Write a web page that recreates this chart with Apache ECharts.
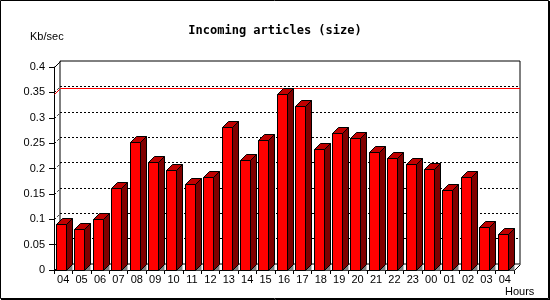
<!DOCTYPE html>
<html>
<head>
<meta charset="utf-8">
<script src="https://cdn.jsdelivr.net/npm/echarts@6/dist/echarts.min.js"></script>
<style>
  html, body { margin: 0; padding: 0; background: #fff; }
  #chart { width: 550px; height: 300px; }
</style>
</head>
<body>
<div id="chart"></div>
<script>
// hours of the day (x categories)
const hours = ['04', '05', '06', '07', '08', '09', '10', '11', '12', '13', '14', '15', '16',
               '17', '18', '19', '20', '21', '22', '23', '00', '01', '02', '03', '04'];
// incoming articles, Kb/sec
const sizeKb = [0.090, 0.080, 0.100, 0.161, 0.253, 0.212, 0.198, 0.169, 0.183, 0.281, 0.216, 0.256, 0.346,
                0.323, 0.238, 0.269, 0.261, 0.233, 0.220, 0.208, 0.200, 0.157, 0.183, 0.084, 0.070];
const yTicks = [0, 0.05, 0.1, 0.15, 0.2, 0.25, 0.3, 0.35, 0.4];
const peak = Math.max(...sizeKb);

const DEPTH = 6;

// 3d bar: front face, top, side and the bit of floor under the side
function renderBar(params, api) {
    const i = api.value(0);
    const v = api.value(1);
    const base = api.coord([i, 0]);
    const top = api.coord([i, v]);
    const band = api.size([1, 0])[0];
    const w = 10, d = DEPTH;
    const x0 = Math.floor(base[0] - band / 2 + 2.5) + 0.5;
    const by = Math.round(base[1]) + 0.5;
    const ty = Math.round(top[1]) + 0.5;
    const edge = { stroke: '#000', lineWidth: 1 };
    return {
        type: 'group',
        children: [
            { type: 'polygon', shape: { points: [[x0 + w, by], [x0 + w + d, by - d], [x0 + w + d, by]] },
              style: { fill: '#808080' } },
            { type: 'rect', shape: { x: x0, y: ty, width: w, height: by - ty },
              style: Object.assign({ fill: '#ff0000' }, edge) },
            { type: 'polygon', shape: { points: [[x0, ty], [x0 + d, ty - d], [x0 + w + d, ty - d], [x0 + w, ty]] },
              style: Object.assign({ fill: '#c00000' }, edge) },
            { type: 'polygon', shape: { points: [[x0 + w, ty], [x0 + w + d, ty - d], [x0 + w + d, by - d], [x0 + w, by]] },
              style: Object.assign({ fill: '#800000' }, edge) }
        ]
    };
}

// diagonal grid strokes on the left wall
function renderWall(params, api) {
    const v = api.value(1);
    const cs = params.coordSys;
    const x0 = Math.round(cs.x) + 0.5;
    const y = Math.round(api.coord([0, v])[1]) + 0.5;
    const solid = (v === 0 || v === 0.4);
    const kids = [{
        type: 'line',
        shape: { x1: x0, y1: y, x2: x0 + DEPTH, y2: y - DEPTH },
        style: { stroke: '#000', lineWidth: 1, lineDash: solid ? null : [2, 2] }
    }];
    if (v === 0) {
        const xr = Math.round(cs.x + cs.width) + 0.5;
        kids.push({
            type: 'line',
            shape: { x1: xr, y1: y, x2: xr + DEPTH, y2: y - DEPTH },
            style: { stroke: '#000', lineWidth: 1 }
        });
    }
    return { type: 'group', children: kids };
}

// red line at the maximum, drawn on the back wall
function renderPeak(params, api) {
    const cs = params.coordSys;
    const x0 = Math.round(cs.x) + 0.5;
    const y = Math.round(api.coord([0, api.value(1)])[1]) + 0.5;
    return {
        type: 'polyline',
        shape: { points: [[x0, y], [x0 + DEPTH, y - DEPTH], [cs.x + cs.width + DEPTH, y - DEPTH]] },
        style: { stroke: '#ff0000', lineWidth: 1, fill: null }
    };
}

const chart = echarts.init(document.getElementById('chart'));
chart.setOption({
    animation: false,
    backgroundColor: '#fff',
    title: {
        text: 'Incoming articles (size)',
        left: 'center',
        top: 20,
        textStyle: { fontFamily: 'DejaVu Sans Mono', fontWeight: 'bold', fontSize: 12, color: '#000' }
    },
    graphic: [
        { type: 'rect', shape: { x: 0.5, y: 0.5, width: 548, height: 298 },
          style: { fill: null, stroke: '#000', lineWidth: 1 } },
        { type: 'line', shape: { x1: 549.5, y1: 1, x2: 549.5, y2: 300 }, style: { stroke: '#000' } },
        { type: 'line', shape: { x1: 1, y1: 299.5, x2: 550, y2: 299.5 }, style: { stroke: '#000' } },
        { type: 'text', left: 30, top: 31,
          style: { text: 'Kb/sec', fontFamily: 'Liberation Sans', fontSize: 11, fill: '#000' } },
        { type: 'text', left: 505, top: 286,
          style: { text: 'Hours', fontFamily: 'Liberation Sans', fontSize: 11, fill: '#000' } }
    ],
    grid: [
        { left: 54, right: 36, top: 67, bottom: 30 },
        { left: 60, right: 30, top: 61, bottom: 36, show: true, borderColor: '#000', borderWidth: 1,
          backgroundColor: 'transparent' }
    ],
    xAxis: [
        {
            gridIndex: 0,
            type: 'category',
            data: hours,
            boundaryGap: true,
            axisLine: { lineStyle: { color: '#000' } },
            axisTick: { show: true, length: 4, lineStyle: { color: '#000' } },
            axisLabel: { interval: 0, margin: 4, color: '#000', fontFamily: 'Liberation Sans', fontSize: 11 },
            splitLine: { show: false }
        },
        { gridIndex: 1, type: 'value', min: 0, max: 1, show: false }
    ],
    yAxis: [
        {
            gridIndex: 0,
            type: 'value',
            min: 0,
            max: 0.4,
            interval: 0.05,
            axisLine: { show: true, lineStyle: { color: '#000' } },
            axisTick: { show: true, length: 5, lineStyle: { color: '#000' } },
            axisLabel: { margin: 9, color: '#000', fontFamily: 'Liberation Sans', fontSize: 11 },
            splitLine: { show: false }
        },
        {
            gridIndex: 1,
            type: 'value',
            min: 0,
            max: 0.4,
            interval: 0.05,
            axisLine: { show: false },
            axisTick: { show: false },
            axisLabel: { show: false },
            splitLine: { show: true, showMinLine: false, showMaxLine: false,
                         lineStyle: { color: '#000', width: 1, type: [2, 2] } }
        }
    ],
    series: [
        {
            type: 'custom',
            xAxisIndex: 0, yAxisIndex: 0,
            renderItem: renderWall,
            clip: false,
            silent: true,
            data: yTicks.map(t => [0, t])
        },
        {
            type: 'custom',
            xAxisIndex: 0, yAxisIndex: 0,
            renderItem: renderPeak,
            clip: false,
            silent: true,
            data: [[0, peak]]
        },
        {
            name: 'Incoming articles',
            type: 'custom',
            xAxisIndex: 0, yAxisIndex: 0,
            renderItem: renderBar,
            clip: false,
            encode: { x: 0, y: 1 },
            data: sizeKb.map((v, i) => [i, v])
        }
    ]
});
</script>
</body>
</html>
